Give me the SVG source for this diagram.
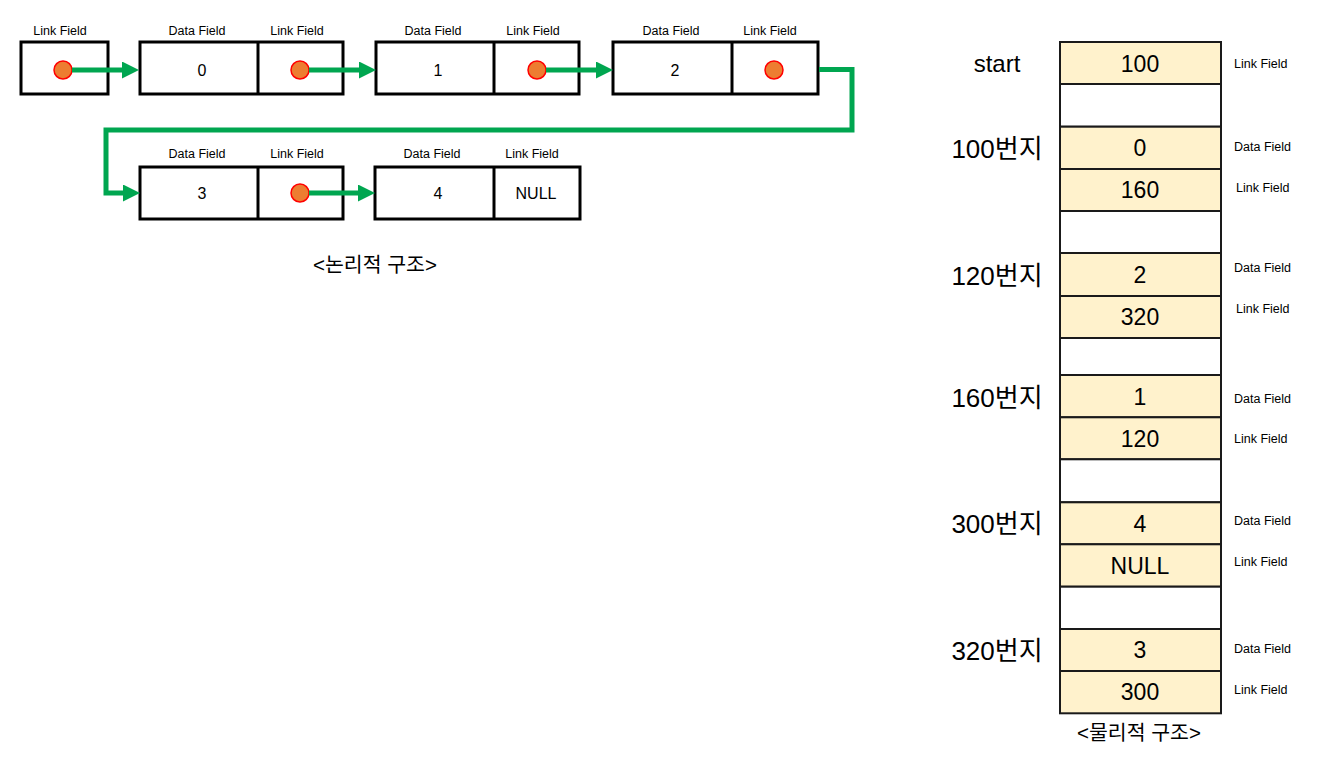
<svg xmlns="http://www.w3.org/2000/svg" width="1319" height="775" viewBox="0 0 1319 775">
<style>
text{font-family:"Liberation Sans","Noto Sans CJK KR",sans-serif;fill:#000}
.nb{fill:#fff;stroke:#000;stroke-width:3}
.dv{stroke:#000;stroke-width:3}
.dot{fill:#ED7D31;stroke:#FF0000;stroke-width:1.5}
.lab{font-size:12.5px;text-anchor:middle}
.val{font-size:16px;text-anchor:middle}
.cap{font-size:20.5px;text-anchor:middle}
.cy{fill:#FFF2CC;stroke:#1a1a1a;stroke-width:2}
.cw{fill:#fff;stroke:#1a1a1a;stroke-width:2}
.cv{font-size:23px;text-anchor:middle}
.addr{font-size:24px;text-anchor:middle}
.kr{font-size:26px}
.rl{font-size:12.5px}
.con{fill:none;stroke:#00A650;stroke-width:5;stroke-linejoin:miter;marker-end:url(#ah)}
</style>
<defs>
<marker id="ah" viewBox="0 0 17 17" refX="0" refY="8.5" markerWidth="17" markerHeight="17" markerUnits="userSpaceOnUse" orient="auto">
<path d="M0,0 L17,8.5 L0,17 z" fill="#00A650"/>
</marker>
</defs>
<rect width="1319" height="775" fill="#fff"/>

<!-- logical structure -->
<g id="head">
<text class="lab" x="60" y="34.5">Link Field</text>
<rect class="nb" x="21" y="42" width="87" height="52"/>
<circle class="dot" cx="63" cy="70" r="9"/>
</g>
<g id="node0">
<text class="lab" x="197" y="34.5">Data Field</text>
<text class="lab" x="297" y="34.5">Link Field</text>
<rect class="nb" x="140" y="42" width="203" height="52"/>
<line class="dv" x1="258" y1="42" x2="258" y2="94"/>
<text class="val" x="202" y="75.8">0</text>
<circle class="dot" cx="300" cy="70" r="9"/>
</g>
<g id="node1">
<text class="lab" x="433" y="34.5">Data Field</text>
<text class="lab" x="533" y="34.5">Link Field</text>
<rect class="nb" x="376" y="42" width="203" height="52"/>
<line class="dv" x1="494" y1="42" x2="494" y2="94"/>
<text class="val" x="438" y="75.8">1</text>
<circle class="dot" cx="537" cy="70" r="9"/>
</g>
<g id="node2">
<text class="lab" x="671" y="34.5">Data Field</text>
<text class="lab" x="770" y="34.5">Link Field</text>
<rect class="nb" x="613" y="42" width="205" height="52"/>
<line class="dv" x1="732" y1="42" x2="732" y2="94"/>
<text class="val" x="675" y="75.8">2</text>
<circle class="dot" cx="774" cy="70" r="9"/>
</g>
<g id="node3">
<text class="lab" x="197" y="158">Data Field</text>
<text class="lab" x="297" y="158">Link Field</text>
<rect class="nb" x="140" y="167" width="203" height="52"/>
<line class="dv" x1="258" y1="167" x2="258" y2="219"/>
<text class="val" x="202" y="198.8">3</text>
<circle class="dot" cx="300" cy="193" r="9"/>
</g>
<g id="node4">
<text class="lab" x="432" y="158">Data Field</text>
<text class="lab" x="532" y="158">Link Field</text>
<rect class="nb" x="375" y="167" width="205" height="52"/>
<line class="dv" x1="494" y1="167" x2="494" y2="219"/>
<text class="val" x="438" y="198.8">4</text>
<text class="val" x="536" y="198.8">NULL</text>
</g>
<g id="connectors">
<path class="con" d="M72,70 H122"/>
<path class="con" d="M309,70 H359"/>
<path class="con" d="M546,70 H596"/>
<path class="con" d="M819,69.5 H852 V130 H106 V193 H123"/>
<path class="con" d="M309,193 H358"/>
</g>
<text class="cap" x="375" y="272">&lt;논리적 구조&gt;</text>

<!-- physical structure -->
<g id="memory">
<rect class="cy" x="1060" y="42" width="161" height="42"/>
<rect class="cw" x="1060" y="84" width="161" height="42.7"/>
<rect class="cy" x="1060" y="126.7" width="161" height="42.3"/>
<rect class="cy" x="1060" y="169" width="161" height="42"/>
<rect class="cw" x="1060" y="211" width="161" height="42"/>
<rect class="cy" x="1060" y="253" width="161" height="43"/>
<rect class="cy" x="1060" y="296" width="161" height="42"/>
<rect class="cw" x="1060" y="338" width="161" height="37"/>
<rect class="cy" x="1060" y="375" width="161" height="42.3"/>
<rect class="cy" x="1060" y="417.3" width="161" height="42"/>
<rect class="cw" x="1060" y="459.3" width="161" height="43"/>
<rect class="cy" x="1060" y="502.3" width="161" height="42"/>
<rect class="cy" x="1060" y="544.3" width="161" height="42.4"/>
<rect class="cw" x="1060" y="586.7" width="161" height="42.3"/>
<rect class="cy" x="1060" y="629" width="161" height="42"/>
<rect class="cy" x="1060" y="671" width="161" height="42.3"/>
<text class="cv" x="1140" y="71.5">100</text>
<text class="cv" x="1140" y="156.3">0</text>
<text class="cv" x="1140" y="198.3">160</text>
<text class="cv" x="1140" y="282.8">2</text>
<text class="cv" x="1140" y="325.3">320</text>
<text class="cv" x="1140" y="404.5">1</text>
<text class="cv" x="1140" y="446.6">120</text>
<text class="cv" x="1140" y="531.6">4</text>
<text class="cv" x="1140" y="573.8">NULL</text>
<text class="cv" x="1140" y="658.3">3</text>
<text class="cv" x="1140" y="700.4">300</text>
</g>
<g id="addresses">
<text class="addr" x="997" y="72">start</text>
<text class="addr kr" x="997" y="157.5">100번지</text>
<text class="addr kr" x="997" y="284.5">120번지</text>
<text class="addr kr" x="997" y="406.5">160번지</text>
<text class="addr kr" x="997" y="532.5">300번지</text>
<text class="addr kr" x="997" y="659.5">320번지</text>
</g>
<g id="field-labels">
<text class="rl" x="1234" y="67.5">Link Field</text>
<text class="rl" x="1234" y="150.5">Data Field</text>
<text class="rl" x="1236" y="191.5">Link Field</text>
<text class="rl" x="1234" y="271.5">Data Field</text>
<text class="rl" x="1236" y="312.5">Link Field</text>
<text class="rl" x="1234" y="402.5">Data Field</text>
<text class="rl" x="1234" y="442.5">Link Field</text>
<text class="rl" x="1234" y="524.5">Data Field</text>
<text class="rl" x="1234" y="565.5">Link Field</text>
<text class="rl" x="1234" y="652.5">Data Field</text>
<text class="rl" x="1234" y="693.5">Link Field</text>
</g>
<text class="cap" x="1139" y="740">&lt;물리적 구조&gt;</text>
</svg>
